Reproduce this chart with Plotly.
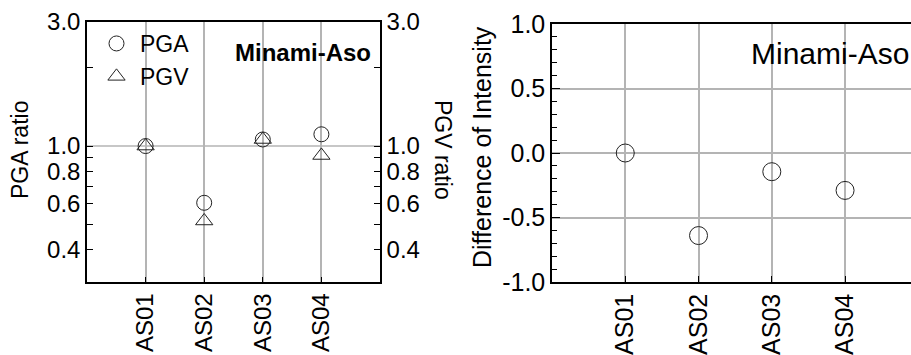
import math
import plotly.graph_objects as go

W, H = 911, 355

stations = ["AS01", "AS02", "AS03", "AS04"]
pga_ratio = [1.00, 0.605, 1.06, 1.11]
pgv_ratio = [1.00, 0.515, 1.06, 0.92]
intensity_diff = [0.00, -0.64, -0.145, -0.29]

ratio_major = [0.4, 0.6, 0.8, 1.0, 3.0]
ratio_major_text = ["0.4", "0.6", "0.8", "1.0", "3.0"]
ratio_minor = [0.5, 0.7, 0.9, 2.0]
ratio_ref = 1.0
diff_major = [-1.0, -0.5, 0.0, 0.5, 1.0]
diff_major_text = ["-1.0", "-0.5", "0.0", "0.5", "1.0"]
diff_minor = [-0.9, -0.8, -0.7, -0.6, -0.4, -0.3, -0.2, -0.1,
              0.1, 0.2, 0.3, 0.4, 0.6, 0.7, 0.8, 0.9]

FONT = "Arial, 'Liberation Sans', sans-serif"
MK = "#222222"
GRID = "#b4b4b4"

def px_x(p):
    return p / W

def px_y(p):
    return 1 - p / H

xpos = [1, 2, 3, 4]

fig = go.Figure()
fig.add_trace(go.Scatter(x=xpos, y=pga_ratio, mode="markers", name="PGA",
                         marker=dict(symbol="circle-open", size=15, color=MK, line=dict(width=1, color=MK)),
                         xaxis="x", yaxis="y"))
fig.add_trace(go.Scatter(x=xpos, y=pgv_ratio, mode="markers", name="PGV",
                         marker=dict(symbol="triangle-up-open", size=15, color=MK, line=dict(width=1, color=MK)),
                         xaxis="x", yaxis="y2"))
fig.add_trace(go.Scatter(x=xpos, y=intensity_diff, mode="markers", name="Intensity",
                         showlegend=False,
                         marker=dict(symbol="circle-open", size=18, color=MK, line=dict(width=1, color=MK)),
                         xaxis="x2", yaxis="y3"))

ratio_range = [math.log10(0.3), math.log10(3.0)]
LF = 24

fig.update_layout(
    width=W, height=H,
    margin=dict(l=0, r=0, t=0, b=0),
    paper_bgcolor="white", plot_bgcolor="white",
    font=dict(family=FONT, size=LF, color="black"),
    showlegend=True,
    legend=dict(x=px_x(93), y=px_y(22), xanchor="left", yanchor="top",
                bgcolor="rgba(0,0,0,0)", font=dict(size=23), tracegroupgap=0,
                itemwidth=37),
    xaxis=dict(domain=[px_x(87), px_x(380)], range=[0, 5], tickmode="array",
               tickvals=xpos, ticktext=stations, tickangle=-90,
               showgrid=True, gridcolor=GRID, gridwidth=1.5,
               showline=True, linecolor="black", linewidth=1.5, mirror=True,
               ticks="inside", ticklen=5, tickcolor="black", zeroline=False,
               tickfont=dict(size=LF), anchor="y", automargin=False),
    yaxis=dict(domain=[px_y(282), px_y(22)], type="log", range=ratio_range,
               tickmode="array", tickvals=ratio_major, ticktext=ratio_major_text,
               showgrid=False, showline=True, linecolor="black", linewidth=1.5,
               ticks="inside", ticklen=6, tickcolor="black", zeroline=False,
               minor=dict(tickmode="array", tickvals=ratio_minor, ticks="inside",
                          ticklen=6, tickcolor="black", showgrid=False),
               tickfont=dict(size=LF), anchor="x", automargin=False),
    yaxis2=dict(overlaying="y", side="right", type="log", range=ratio_range,
                tickmode="array", tickvals=ratio_major, ticktext=ratio_major_text,
                showgrid=False, showline=True, linecolor="black", linewidth=1.5,
                ticks="inside", ticklen=6, tickcolor="black", zeroline=False,
                minor=dict(tickmode="array", tickvals=ratio_minor, ticks="inside",
                           ticklen=6, tickcolor="black", showgrid=False),
                tickfont=dict(size=LF), anchor="x", automargin=False),
    xaxis2=dict(domain=[px_x(552), 1.0], range=[0, 4.9], tickmode="array",
                tickvals=xpos, ticktext=stations, tickangle=-90,
                showgrid=True, gridcolor=GRID, gridwidth=1.5,
                showline=True, linecolor="black", linewidth=1.5, mirror=True,
                ticks="inside", ticklen=6, tickcolor="black", zeroline=False,
                tickfont=dict(size=25), anchor="y3", automargin=False),
    yaxis3=dict(domain=[px_y(282), px_y(24)], range=[-1.0, 1.0],
                tickmode="array", tickvals=diff_major, ticktext=diff_major_text,
                showgrid=True, gridcolor=GRID, gridwidth=1.5,
                showline=True, linecolor="black", linewidth=1.5, mirror=False,
                ticks="inside", ticklen=8, tickcolor="black", zeroline=False,
                minor=dict(tickmode="array", tickvals=diff_minor, ticks="inside",
                           ticklen=5, tickcolor="black", showgrid=False),
                tickfont=dict(size=25), anchor="x2", automargin=False),
)

fig.add_shape(type="line", xref="x domain", yref="y", x0=0, x1=1, y0=ratio_ref, y1=ratio_ref,
              line=dict(color=GRID, width=1.5), layer="below")

fig.add_annotation(text="<b>Minami-Aso</b>", xref="paper", yref="paper",
                   x=px_x(373), y=px_y(52), xanchor="right", yanchor="middle",
                   showarrow=False, font=dict(size=24))
fig.add_annotation(text="Minami-Aso", xref="paper", yref="paper",
                   x=px_x(749), y=px_y(53), xanchor="left", yanchor="middle",
                   showarrow=False, font=dict(size=30))
fig.add_annotation(text="PGA ratio", xref="paper", yref="paper",
                   x=px_x(20), y=px_y(150), xanchor="center", yanchor="middle",
                   textangle=-90, showarrow=False, font=dict(size=23))
fig.add_annotation(text="PGV ratio", xref="paper", yref="paper",
                   x=px_x(443), y=px_y(150), xanchor="center", yanchor="middle",
                   textangle=90, showarrow=False, font=dict(size=23))
fig.add_annotation(text="Difference of Intensity", xref="paper", yref="paper",
                   x=px_x(482), y=px_y(147), xanchor="center", yanchor="middle",
                   textangle=-90, showarrow=False, font=dict(size=25))

fig.write_html("out.html")
